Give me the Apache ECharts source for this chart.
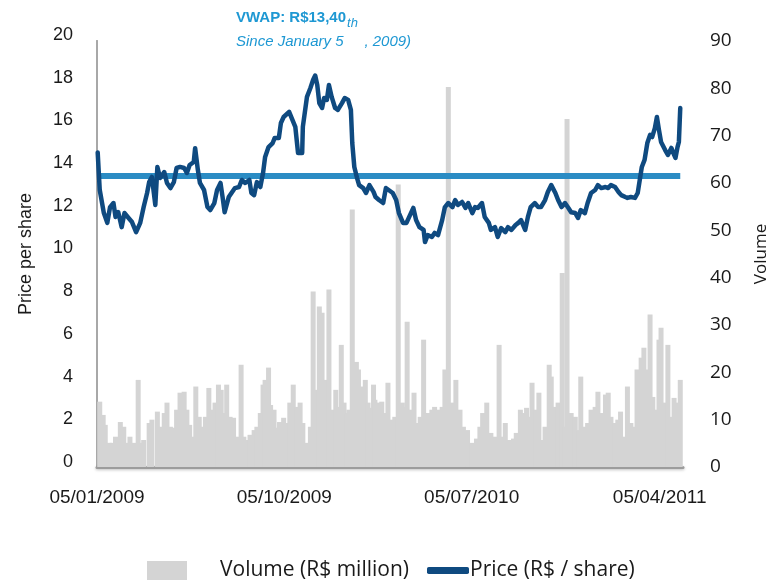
<!DOCTYPE html>
<html>
<head>
<meta charset="utf-8">
<script src="https://cdn.jsdelivr.net/npm/echarts@6/dist/echarts.min.js"></script>
<style>
  html, body { margin: 0; padding: 0; background: #ffffff; }
  #chart { width: 771px; height: 587px; }
</style>
</head>
<body>
<div id="chart"></div>
<script>
// Share price (R$) sampled by calendar day, counted from 5 Jan 2009
const priceDays = [1,4,10,15,19,24,27,31,36,40,46,51,57,63,68,73,76,80,85,88,
  92,98,102,107,112,116,121,127,131,135,141,143,147,150,156,161,165,171,175,180,
  183,186,192,196,201,207,211,216,222,225,229,233,238,242,245,250,256,259,265,268,
  272,280,289,293,299,300,306,311,315,318,321,324,328,331,335,338,342,347,351,357,
  361,366,370,372,375,379,382,388,392,397,403,406,411,417,421,425,431,436,440,446,
  451,455,461,465,470,476,478,482,488,492,497,503,507,512,518,522,526,532,537,541,
  547,551,555,561,565,571,574,580,584,589,595,599,604,610,614,618,624,628,632,638,
  643,647,653,657,662,668,672,677,682,687,691,697,701,705,711,715,720,726,730,735,
  741,745,749,755,760,764,770,773,778,784,788,791,794,798,802,806,809,813,816,819,
  822,828,832,837,840,843,846,848,850];
const priceValues = [14.5,12.74,11.66,11.2,11.94,12.13,11.48,11.7,11.0,11.66,
  11.43,11.24,10.77,11.2,11.94,12.6,13.11,13.35,12.04,13.82,
  13.3,13.58,13.07,12.83,13.11,13.77,13.82,13.77,13.54,13.91,
  14.05,14.7,13.68,13.07,12.74,11.94,11.8,12.13,12.74,13.07,
  12.41,11.7,12.41,12.6,12.83,12.88,13.21,13.07,13.21,12.6,
  12.5,13.11,12.88,13.54,14.29,14.75,14.94,15.18,15.18,15.88,
  16.16,16.4,15.7,14.47,14.47,15.7,17.1,17.52,17.9,18.1,
  17.66,16.81,16.58,17.05,16.96,17.66,17.1,16.58,16.49,16.81,
  17.05,16.96,16.49,14.94,13.82,13.3,12.97,12.83,12.6,12.97,
  12.65,12.41,12.27,12.13,12.83,12.74,12.6,12.27,11.66,11.2,
  11.2,11.48,11.9,11.33,11.0,10.87,10.3,10.63,10.54,10.73,
  10.63,11.33,11.94,12.13,11.94,12.27,12.04,12.18,11.9,12.13,
  11.66,11.94,11.9,12.13,11.48,11.2,10.87,11.0,10.54,10.96,
  10.77,11.0,10.87,11.1,11.2,11.33,10.87,11.48,11.94,12.13,
  11.94,11.94,12.27,12.65,12.97,12.6,12.27,11.94,12.13,11.9,
  11.7,11.66,11.43,11.8,11.66,12.13,12.6,12.74,12.97,12.83,
  12.88,12.83,12.97,12.88,12.65,12.5,12.41,12.37,12.41,12.37,
  12.6,13.21,13.82,14.15,14.94,15.32,15.22,15.64,16.16,15.55,
  14.99,14.61,14.38,14.71,14.47,14.24,14.75,14.99,16.58];

// Traded volume (R$ million), same day counting
const volumeDays = [4,9,12,18,22,27,34,39,43,48,54,60,63,68,76,80,88,92,98,102,
  107,112,116,121,127,131,135,141,144,149,153,158,163,168,172,177,181,185,189,194,
  199,204,210,214,219,223,229,233,238,242,245,250,253,258,262,266,272,277,281,286,
  292,296,300,306,311,315,321,324,328,332,335,338,344,348,351,356,360,364,367,372,
  378,381,387,391,395,399,403,405,409,415,420,424,430,434,439,445,448,452,456,462,
  467,471,476,478,482,488,492,497,503,507,512,518,523,529,534,540,547,553,558,562,
  568,574,580,586,592,595,601,607,611,617,621,626,631,634,640,644,648,653,659,662,
  668,672,678,682,685,691,697,702,705,711,715,720,726,730,735,741,745,749,755,759,
  763,767,773,778,784,787,793,797,800,806,810,815,819,822,828,832,837,841,846,850];
const volumeValues = [13.8,11,8.9,5.1,5.1,6.4,9.5,8.5,5.1,6.4,5.1,18.4,5.1,5.7,9.3,10,11.7,8.5,11.4,13.6,
  8.5,8.3,12.1,15.7,15.9,12.1,8.9,6.4,17,10.6,8.5,10.6,16.7,12.1,13.6,17.4,16.3,11.4,17.4,10.6,
  10.4,6.4,21.6,6.4,5.7,6.8,7.8,8.5,11.4,17.4,18.4,21,13.1,12.1,8.3,9.5,10.4,9.3,13.6,17.4,
  12.7,13.6,9.3,5.1,8.5,37.1,16.3,33.9,32.6,18.4,13.6,37.5,12.1,16.3,12.7,25.8,13.6,11.4,12.1,54.4,
  22.2,20.6,17,18.4,13.6,12.5,17.4,14.2,13.6,13.8,11.4,17.8,10,10.6,59.7,13.6,12.7,30.7,12.1,15.7,
  9.3,10.6,26.9,11.4,11.4,12.1,12.7,12.1,12.7,20.6,80.3,13.6,18.4,12.1,8.5,7.8,5.1,6,8.5,11.4,
  13.6,7.2,6.4,25.8,6.4,9.3,5.7,6,7.2,12.1,11.4,12.5,10.6,17.8,12.1,15.7,5.7,8.5,21.6,19.1,
  12.7,13.6,41,8.5,73.5,11.4,10.6,7.8,19.1,8.5,9.3,12.1,12.7,15.9,11.4,15.3,15.7,10.6,9.3,10,
  11.7,6.4,17,9.3,8.5,20.6,23.1,25.2,20.6,32.2,14.8,12.1,26.9,29.4,13.6,25.8,10.6,14.6,13.6,18.4];

// Volume-weighted average price since 5 Jan 2009
const vwapValue = 13.40;

// Axis ticks and labels
const priceTicks = { min: 0, max: 20, step: 2 };
const volumeTicks = { min: 0, max: 90, step: 10 };
const dateLabels = ['2009-01-05', '2009-10-05', '2010-07-05', '2011-04-05'];
const axisEndDay = 854;

const seriesNames = { volume: 'Volume (R$ million)', price: 'Price (R$ / share)' };

// Day counting on the horizontal axis starts at 5 Jan 2009
const DAY_MS = 86400000;
const ORIGIN = Date.UTC(2009, 0, 5);
function dateToDay(s) {
  const p = s.split('-').map(Number);
  return Math.round((Date.UTC(p[0], p[1] - 1, p[2]) - ORIGIN) / DAY_MS);
}
function pad(n) { return (n < 10 ? '0' : '') + n; }
function dayLabel(day) {
  const d = new Date(ORIGIN + Math.round(day) * DAY_MS);
  return pad(d.getUTCDate()) + '/' + pad(d.getUTCMonth() + 1) + '/' + d.getUTCFullYear();
}

const priceData = priceDays.map((d, i) => [d, priceValues[i]]);
const volumeData = volumeDays.map((d, i) => [d, volumeValues[i]]);
const vwapData = [[priceDays[0], vwapValue], [priceDays[priceDays.length - 1], vwapValue]];

const SANS = "'Liberation Sans', Arial, sans-serif";
const OPEN = "'Open Sans', 'Noto Sans', sans-serif";
const TEXT = '#1a1a1a';
const ACCENT = '#1e98d3';

const chart = echarts.init(document.getElementById('chart'), null, { renderer: 'canvas' });

chart.setOption({
  animation: false,
  backgroundColor: '#ffffff',
  title: {
    left: 236,
    top: 6,
    padding: 0,
    text: '{b|VWAP: R$13,40}{th|th}\n{i|Since January 5     , 2009)}',
    textStyle: {
      rich: {
        b: { fontFamily: SANS, fontWeight: 'bold', fontSize: 15, color: ACCENT, lineHeight: 24 },
        th: { fontFamily: SANS, fontWeight: 'normal', fontStyle: 'italic', fontSize: 13, color: ACCENT, padding: [11, 0, 0, 1], lineHeight: 24 },
        i: { fontFamily: SANS, fontWeight: 'normal', fontStyle: 'italic', fontSize: 15, color: ACCENT, lineHeight: 24 }
      }
    }
  },
  legend: [
    {
      data: [seriesNames.volume],
      left: 147,
      top: 560,
      padding: 0,
      itemWidth: 40,
      itemHeight: 19,
      selectedMode: false,
      icon: 'rect',
      textStyle: { fontFamily: OPEN, fontSize: 21, color: TEXT, padding: [0, 0, 0, 28] }
    },
    {
      data: [seriesNames.price],
      left: 427,
      top: 560,
      padding: 0,
      itemWidth: 42,
      itemHeight: 7,
      selectedMode: false,
      icon: 'roundRect',
      textStyle: { fontFamily: OPEN, fontSize: 21, color: TEXT, padding: [0, 0, 0, -4] }
    }
  ],
  grid: [
    { left: 97, right: 88, top: 35, bottom: 125, containLabel: false, outerBoundsMode: 'none' },
    { left: 97, right: 88, top: 41, bottom: 120, containLabel: false, outerBoundsMode: 'none' }
  ],
  xAxis: [
    { type: 'value', gridIndex: 0, min: 0, max: axisEndDay, show: false },
    {
      type: 'value', gridIndex: 1, min: 0, max: axisEndDay,
      axisLine: {
        show: true,
        lineStyle: { color: '#9c9c9c', width: 3, shadowColor: 'rgba(0,0,0,0.25)', shadowBlur: 3, shadowOffsetY: 1 }
      },
      axisTick: { show: false },
      splitLine: { show: false },
      axisLabel: {
        customValues: dateLabels.map(dateToDay),
        formatter: dayLabel,
        fontFamily: SANS,
        fontSize: 19,
        color: TEXT,
        margin: 21
      }
    }
  ],
  yAxis: [
    {
      type: 'value', gridIndex: 0, position: 'left',
      min: priceTicks.min, max: priceTicks.max, interval: priceTicks.step,
      axisLine: { show: false },
      axisTick: { show: false },
      splitLine: { show: false },
      axisLabel: { fontFamily: SANS, fontSize: 18, color: TEXT, margin: 24 }
    },
    {
      type: 'value', gridIndex: 1, position: 'right',
      min: volumeTicks.min, max: volumeTicks.max, interval: volumeTicks.step,
      axisLine: { show: true, lineStyle: { color: '#a8a8a8', width: 2 } },
      axisTick: { show: false },
      splitLine: { show: false },
      axisLabel: { fontFamily: OPEN, fontSize: 19, color: TEXT, margin: 27 },
      name: 'Volume',
      nameLocation: 'middle',
      nameRotate: 90,
      nameGap: 70,
      nameTextStyle: { fontFamily: OPEN, fontSize: 17, color: TEXT }
    },
    {
      type: 'value', gridIndex: 1, position: 'left',
      min: 0, max: 1,
      axisLine: { show: true, lineStyle: { color: '#a8a8a8', width: 2 } },
      axisTick: { show: false },
      splitLine: { show: false },
      axisLabel: { show: false },
      name: 'Price per share',
      nameLocation: 'middle',
      nameRotate: 90,
      nameGap: 62,
      nameTextStyle: { fontFamily: SANS, fontSize: 18, color: TEXT }
    }
  ],
  series: [
    {
      name: seriesNames.volume,
      type: 'bar',
      xAxisIndex: 1,
      yAxisIndex: 1,
      data: volumeData,
      barWidth: 5,
      itemStyle: { color: '#d4d4d4' },
      z: 1
    },
    {
      name: 'VWAP',
      type: 'line',
      xAxisIndex: 0,
      yAxisIndex: 0,
      data: vwapData,
      showSymbol: false,
      lineStyle: { color: '#2b8cc4', width: 6 },
      z: 2
    },
    {
      name: seriesNames.price,
      type: 'line',
      xAxisIndex: 0,
      yAxisIndex: 0,
      data: priceData,
      showSymbol: false,
      itemStyle: { color: '#0f4a80' },
      lineStyle: { color: '#0f4a80', width: 4.5, join: 'round', cap: 'round' },
      z: 3
    }
  ]
});
</script>
</body>
</html>
